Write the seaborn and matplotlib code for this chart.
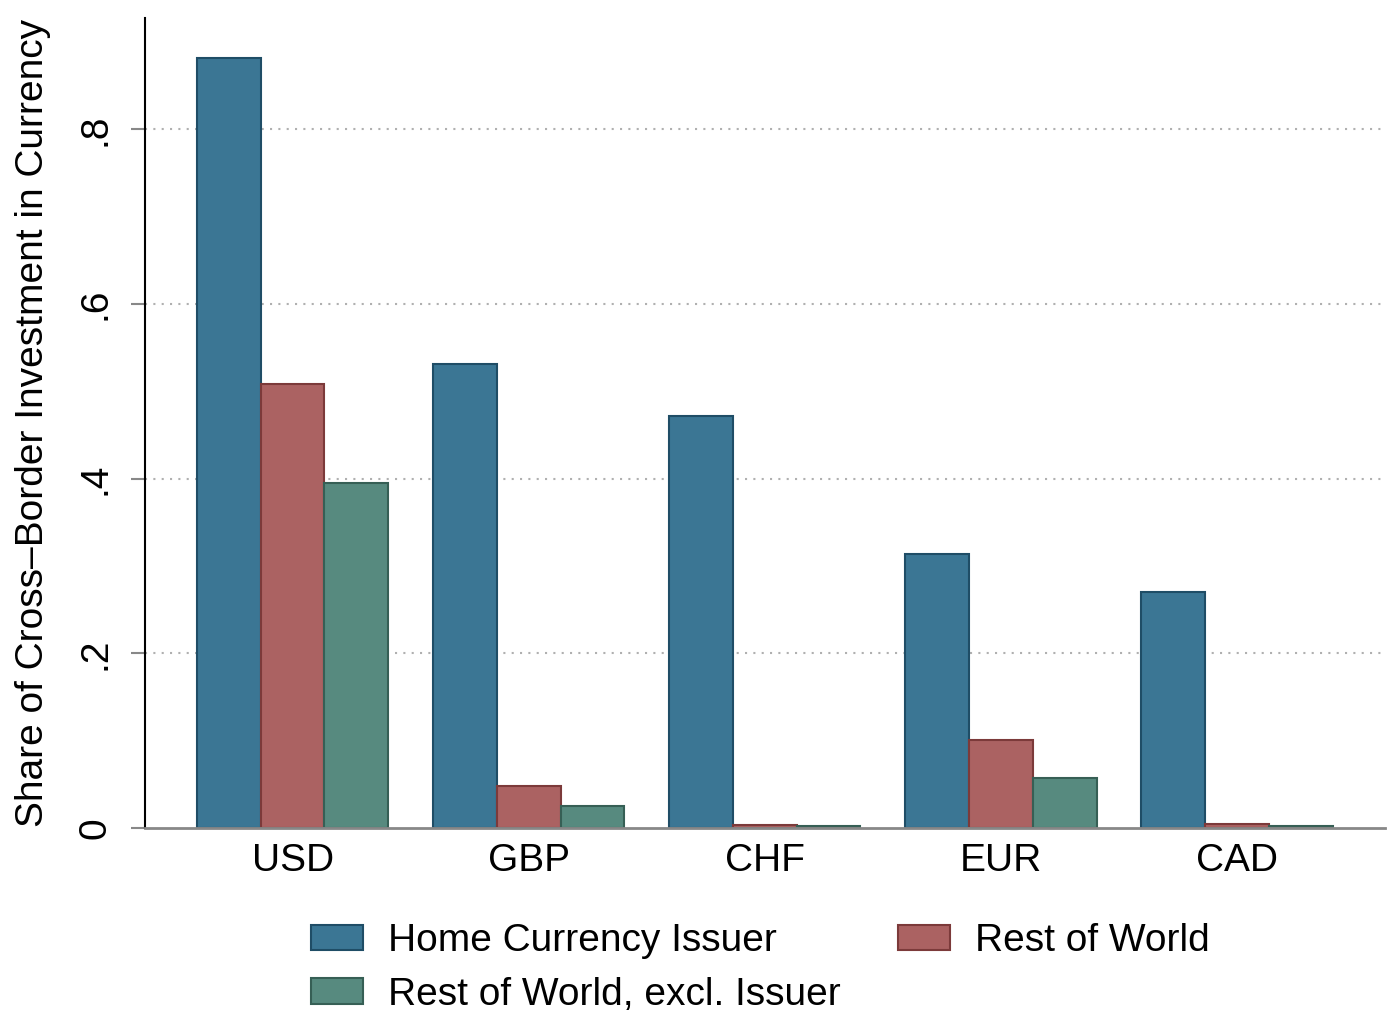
import matplotlib
matplotlib.use("Agg")
import matplotlib.pyplot as plt
import pandas as pd
import seaborn as sns
from matplotlib.patches import Patch

currencies = ["USD", "GBP", "CHF", "EUR", "CAD"]
series = ["Home Currency Issuer", "Rest of World", "Rest of World, excl. Issuer"]
home_issuer = [0.882, 0.531, 0.472, 0.314, 0.270]
rest_of_world = [0.509, 0.048, 0.004, 0.101, 0.005]
row_excl_issuer = [0.395, 0.025, 0.002, 0.057, 0.002]

fills = ["#3b7694", "#ab6262", "#578a7f"]
edges = ["#1f4d66", "#7c3a3a", "#365f55"]

frame = pd.DataFrame(
    {
        "currency": currencies * 3,
        "series": [s for s in series for _ in currencies],
        "share": home_issuer + rest_of_world + row_excl_issuer,
    }
)

sns.set_style("white")
plt.rcParams["font.family"] = ["Liberation Sans", "DejaVu Sans"]
plt.rcParams["text.color"] = "black"
FS = 28

fig = plt.figure(figsize=(14, 10.25), dpi=100)
ax = fig.add_axes([0.1036, 0.192, 0.8854, 0.79])

sns.barplot(
    data=frame, x="currency", y="share", hue="series", order=currencies,
    hue_order=series, palette=fills, width=0.81, saturation=1, ax=ax,
    legend=False, linewidth=1.5,
)
for container, ec in zip(ax.containers, edges):
    for bar in container:
        bar.set_edgecolor(ec)

ax.set_xlim(-0.625, 4.625)
ax.set_ylim(0, 0.927)
ax.set_yticks([0, 0.2, 0.4, 0.6, 0.8])
ax.set_yticklabels(["0", ".2", ".4", ".6", ".8"], rotation=90, va="center")
for y in [0.2, 0.4, 0.6, 0.8]:
    ax.axhline(y, color="#b0b0b0", linestyle=(0, (1, 3)), linewidth=1.5, zorder=0)

ax.tick_params(axis="y", labelsize=FS, labelcolor="black", length=10, width=1.5,
               color="#888888", pad=13, left=True)
ax.tick_params(axis="x", labelsize=FS, labelcolor="black", length=0, pad=11)
ax.set_xlabel("")
ax.set_ylabel("Share of Cross\u2013Border Investment in Currency", fontsize=FS,
              color="black", labelpad=19)

for side in ["top", "right"]:
    ax.spines[side].set_visible(False)
ax.spines["left"].set_color("black")
ax.spines["left"].set_linewidth(1.5)
ax.spines["bottom"].set_color("#888888")
ax.spines["bottom"].set_linewidth(2)

# legend fills row by row: Home, Rest of World / excl. Issuer
handles = [Patch(facecolor=f, edgecolor=e, linewidth=1.5) for f, e in zip(fills, edges)]
order = [0, 2, 1]
fig.legend(
    [handles[i] for i in order], [series[i] for i in order],
    loc="lower center", bbox_to_anchor=(0.543, -0.022), ncol=2,
    frameon=False, fontsize=FS, handlelength=1.34, handleheight=0.64,
    handletextpad=0.64, columnspacing=1.46, labelspacing=0.45,
)

fig.savefig("out.png", dpi=100)
